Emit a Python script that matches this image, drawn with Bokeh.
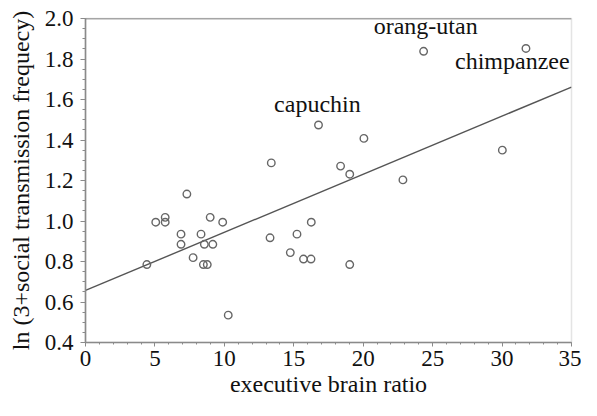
from bokeh.plotting import figure
from bokeh.models import (SingleIntervalTicker, PrintfTickFormatter, Span, Label)
from bokeh.embed import file_html
from bokeh.resources import INLINE

# ---- data ----
exec_brain_ratio = [4.42, 5.06, 5.74, 5.74, 7.30, 6.88, 6.88, 7.75, 8.32, 8.56,
                    8.49, 8.77, 8.98, 9.17, 9.88, 10.28,
                    16.78, 20.05, 13.38, 18.37, 19.03, 22.86, 16.26, 13.29,
                    15.23, 14.75, 15.70, 16.24, 19.03,
                    24.35, 31.72, 30.02]
ln_social_freq = [0.785, 0.994, 1.018, 0.994, 1.133, 0.935, 0.885, 0.819, 0.935, 0.885,
                  0.785, 0.785, 1.018, 0.885, 0.994, 0.535,
                  1.474, 1.408, 1.287, 1.271, 1.231, 1.203, 0.994, 0.917,
                  0.935, 0.844, 0.812, 0.812, 0.785,
                  1.838, 1.852, 1.350]

fit_intercept = 0.657
fit_slope = 0.0287
fit_x = [0, 35]

label_names = ["capuchin", "orang-utan", "chimpanzee"]
label_x = [16.7, 24.5, 30.74]
label_y = [1.580, 1.963, 1.790]

FONT = "Liberation Serif"

p = figure(width=581, height=400, x_range=(0, 35), y_range=(0.4, 2.0),
           output_backend="svg", toolbar_location=None,
           min_border_left=85, min_border_right=10, min_border_top=18,
           min_border_bottom=58)
p.xgrid.visible = False
p.ygrid.visible = False
p.outline_line_color = "#e4e4e4"
p.outline_line_width = 1.5

# regression line
fit_y = [fit_intercept + fit_slope * xv for xv in fit_x]
p.line(fit_x, fit_y, line_color="#555555", line_width=1.4)

# points
p.scatter(exec_brain_ratio, ln_social_freq, marker="circle", size=7.5,
          fill_color=None, line_color="#666666", line_width=1.4)

# top border
p.add_layout(Span(location=2.0, dimension="width", line_color="#666666",
                  line_width=1.6))

for name, lx, ly in zip(label_names, label_x, label_y):
    p.add_layout(Label(x=lx, y=ly, text=name, text_align="center",
                       text_baseline="alphabetic", text_font=FONT,
                       text_font_size="24px", text_color="#111111"))

# axes
p.xaxis.ticker = SingleIntervalTicker(interval=5, num_minor_ticks=5)
p.yaxis.ticker = SingleIntervalTicker(interval=0.2, num_minor_ticks=4)
p.yaxis.formatter = PrintfTickFormatter(format="%.1f")

for ax in (p.xaxis[0], p.yaxis[0]):
    ax.axis_line_color = "#8a8a8a"
    ax.axis_line_width = 1.6
    ax.major_tick_line_color = "#8a8a8a"
    ax.minor_tick_line_color = "#8a8a8a"
    ax.major_tick_in = 0
    ax.minor_tick_in = 0
    ax.major_label_text_font = FONT
    ax.major_label_text_font_size = "23px"
    ax.major_label_text_color = "#111111"
    ax.axis_label_text_font = FONT
    ax.axis_label_text_font_size = "24px"
    ax.axis_label_text_font_style = "normal"
    ax.axis_label_text_color = "#111111"

p.xaxis.major_tick_out = 4
p.xaxis.minor_tick_out = 2
p.xaxis.major_label_standoff = 4
p.xaxis.axis_label_standoff = 2
p.yaxis.major_tick_out = 5
p.yaxis.minor_tick_out = 3
p.yaxis.major_label_standoff = 7
p.yaxis.axis_label_standoff = 8

p.xaxis.axis_label = "executive brain ratio"
p.yaxis.axis_label = "ln (3+social transmission frequecy)"

open("out.html", "w").write(file_html(p, INLINE))
